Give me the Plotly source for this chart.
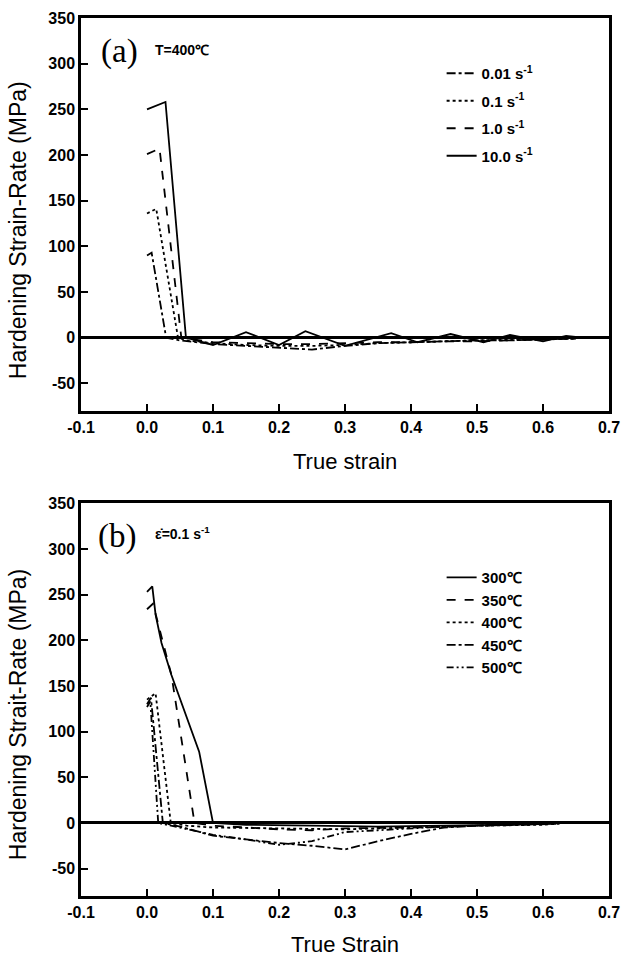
import plotly.graph_objects as go

# ---------------- Panel (a): T = 400 C, different strain rates ----------------
a_names = ["0.01 s<sup>-1</sup>", "0.1 s<sup>-1</sup>", "1.0 s<sup>-1</sup>", "10.0 s<sup>-1</sup>"]
a_x_001 = [0, 0.007, 0.029, 0.05, 0.1, 0.15, 0.2, 0.25, 0.3, 0.35, 0.4, 0.45, 0.5, 0.55, 0.6, 0.65]
a_y_001 = [90, 93, 0, -3, -7, -9, -11, -13, -9, -6, -5, -4, -3, -3, -2, -1]
a_x_01 = [0, 0.014, 0.047, 0.06, 0.1, 0.15, 0.2, 0.25, 0.3, 0.35, 0.4, 0.45, 0.5, 0.55, 0.6, 0.65]
a_y_01 = [136, 141, 0, -3, -6, -8, -9, -9, -8, -6, -5, -4, -3, -2, -2, -1]
a_x_10 = [0, 0.019, 0.052, 0.07, 0.1, 0.15, 0.2, 0.25, 0.3, 0.35, 0.4, 0.45, 0.5, 0.55, 0.6, 0.65]
a_y_10 = [201, 207, 0, -2, -5, -6, -7, -7, -6, -5, -5, -4, -4, -3, -2, -1]
a_x_100 = [0, 0.028, 0.059, 0.1, 0.15, 0.2, 0.24, 0.3, 0.37, 0.41, 0.46, 0.51, 0.55, 0.6, 0.635, 0.66]
a_y_100 = [250, 258, 0, -8, 6, -8, 7, -9, 5, -5, 4, -5, 3, -4, 2, 0]

# ---------------- Panel (b): strain rate 0.1 s-1, different temperatures ----------------
b_names = ["300℃", "350℃", "400℃", "450℃", "500℃"]
b_x_300 = [0, 0.008, 0.013, 0.022, 0.037, 0.079, 0.1, 0.15, 0.25, 0.35, 0.45, 0.55, 0.62]
b_y_300 = [253, 259, 228, 197, 162, 78, 0, -2, -3, -4, -3, -2, -1]
b_x_350 = [0, 0.009, 0.037, 0.072, 0.1, 0.2, 0.25, 0.3, 0.4, 0.5, 0.6, 0.625]
b_y_350 = [234, 240, 162, 0, -3, -7, -8, -6, -5, -3, -1, -1]
b_x_400 = [0, 0.013, 0.036, 0.06, 0.1, 0.2, 0.3, 0.4, 0.5, 0.6, 0.62]
b_y_400 = [135, 142, 0, -3, -5, -6, -7, -5, -3, -2, -1]
b_x_450 = [0, 0.006, 0.024, 0.05, 0.1, 0.15, 0.2, 0.25, 0.3, 0.35, 0.4, 0.45, 0.5, 0.55, 0.6]
b_y_450 = [130, 137, 0, -4, -14, -18, -22, -25, -29, -20, -12, -5, -3, -2, -1]
b_x_500 = [0, 0.005, 0.017, 0.05, 0.1, 0.15, 0.2, 0.25, 0.3, 0.35, 0.4, 0.45, 0.5, 0.55, 0.6]
b_y_500 = [127, 133, 0, -5, -13, -18, -24, -20, -10, -8, -6, -4, -3, -2, -1]

x_ticks = [-0.1, 0.0, 0.1, 0.2, 0.3, 0.4, 0.5, 0.6, 0.7]
x_ticktext = ["-0.1", "0.0", "0.1", "0.2", "0.3", "0.4", "0.5", "0.6", "0.7"]
y_ticks = [-50, 0, 50, 100, 150, 200, 250, 300, 350]
y_ticktext = ["-50", "0", "50", "100", "150", "200", "250", "300", "350"]

SANS = "Liberation Sans, Arial, sans-serif"
SERIF = "Liberation Serif, Times New Roman, serif"

fig = go.Figure()

a_sets = [(a_x_001, a_y_001, "dashdot"), (a_x_01, a_y_01, "dot"),
          (a_x_10, a_y_10, "dash"), (a_x_100, a_y_100, "solid")]
for i, (xs, ys, dash) in enumerate(a_sets):
    fig.add_trace(go.Scatter(x=xs, y=ys, mode="lines", name=a_names[i],
                             line=dict(color="black", width=1.8, dash=dash),
                             xaxis="x", yaxis="y", legend="legend",
                             legendgroup="a%d" % i))

b_sets = [(b_x_300, b_y_300, "solid"), (b_x_350, b_y_350, "dash"),
          (b_x_400, b_y_400, "dot"), (b_x_450, b_y_450, "dashdot"),
          (b_x_500, b_y_500, "7px,3px,2px,3px,2px,3px")]
for i, (xs, ys, dash) in enumerate(b_sets):
    fig.add_trace(go.Scatter(x=xs, y=ys, mode="lines", name=b_names[i],
                             line=dict(color="black", width=1.8, dash=dash),
                             xaxis="x2", yaxis="y2", legend="legend2"))

axis_common = dict(showline=True, linecolor="black", linewidth=2.5, mirror=True,
                   ticks="inside", ticklen=7, tickwidth=2, tickcolor="black",
                   showgrid=False,
                   tickfont=dict(family=SANS, size=16, color="black", weight="bold"))

fig.update_layout(
    width=622, height=958,
    margin=dict(l=81, r=13, t=18, b=62, autoexpand=False),
    paper_bgcolor="white", plot_bgcolor="white",
    showlegend=True,
    xaxis=dict(domain=[0, 1], range=[-0.1, 0.7], tickvals=x_ticks, ticktext=x_ticktext,
               zeroline=False, anchor="y", **axis_common),
    yaxis=dict(domain=[0.5527, 1], range=[-80, 350], tickvals=y_ticks, ticktext=y_ticktext,
               zeroline=True, zerolinecolor="black", zerolinewidth=2.5, anchor="x",
               **axis_common),
    xaxis2=dict(domain=[0, 1], range=[-0.1, 0.7], tickvals=x_ticks, ticktext=x_ticktext,
                zeroline=False, anchor="y2", **axis_common),
    yaxis2=dict(domain=[0, 0.4473], range=[-80, 350], tickvals=y_ticks, ticktext=y_ticktext,
                zeroline=True, zerolinecolor="black", zerolinewidth=2.5, anchor="x2",
                **axis_common),
    legend=dict(x=0.683, y=0.9556, xref="paper", yref="paper",
                xanchor="left", yanchor="top", bgcolor="rgba(0,0,0,0)",
                traceorder="grouped", tracegroupgap=5,
                font=dict(family=SANS, size=15, color="black", weight="bold")),
    legend2=dict(x=0.683, y=0.3815, xref="paper", yref="paper",
                 xanchor="left", yanchor="top", bgcolor="rgba(0,0,0,0)",
                 traceorder="normal",
                 font=dict(family=SANS, size=15, color="black", weight="bold")),
)

ann = []
# axis titles
ann.append(dict(text="True strain", x=0.5, y=(896 - 462) / 878, xref="paper", yref="paper",
                xanchor="center", yanchor="middle", showarrow=False,
                font=dict(family=SANS, size=22, color="black")))
ann.append(dict(text="True Strain", x=0.5, y=(896 - 944) / 878, xref="paper", yref="paper",
                xanchor="center", yanchor="middle", showarrow=False,
                font=dict(family=SANS, size=22, color="black")))
ann.append(dict(text="Hardening Strain-Rate (MPa)", x=-0.119, y=(896 - 230) / 878,
                xref="paper", yref="paper", xanchor="center", yanchor="middle",
                textangle=-90, showarrow=False,
                font=dict(family=SANS, size=23, color="black")))
ann.append(dict(text="Hardening Strait-Rate (MPa)", x=-0.119, y=(896 - 715) / 878,
                xref="paper", yref="paper", xanchor="center", yanchor="middle",
                textangle=-90, showarrow=False,
                font=dict(family=SANS, size=23, color="black")))
# panel labels
ann.append(dict(text="(a)", x=0.0731, y=0.9613, xref="paper", yref="paper",
                xanchor="center", yanchor="middle", showarrow=False,
                font=dict(family=SERIF, size=33, color="black")))
ann.append(dict(text="T=400℃", x=0.1373, y=0.9636, xref="paper", yref="paper",
                xanchor="left", yanchor="middle", showarrow=False,
                font=dict(family=SANS, size=14, color="black", weight="bold")))
ann.append(dict(text="(b)", x=0.0675, y=0.4089, xref="paper", yref="paper",
                xanchor="center", yanchor="middle", showarrow=False,
                font=dict(family=SERIF, size=33, color="black")))
ann.append(dict(text="ε̇=0.1 s<sup>-1</sup>", x=0.1373, y=0.4138, xref="paper", yref="paper",
                xanchor="left", yanchor="middle", showarrow=False,
                font=dict(family=SANS, size=14, color="black", weight="bold")))
fig.update_layout(annotations=ann)

fig.write_html("out.html", config={"displayModeBar": False},
               post_script="document.body.style.margin='0';document.body.style.overflow='hidden';")
